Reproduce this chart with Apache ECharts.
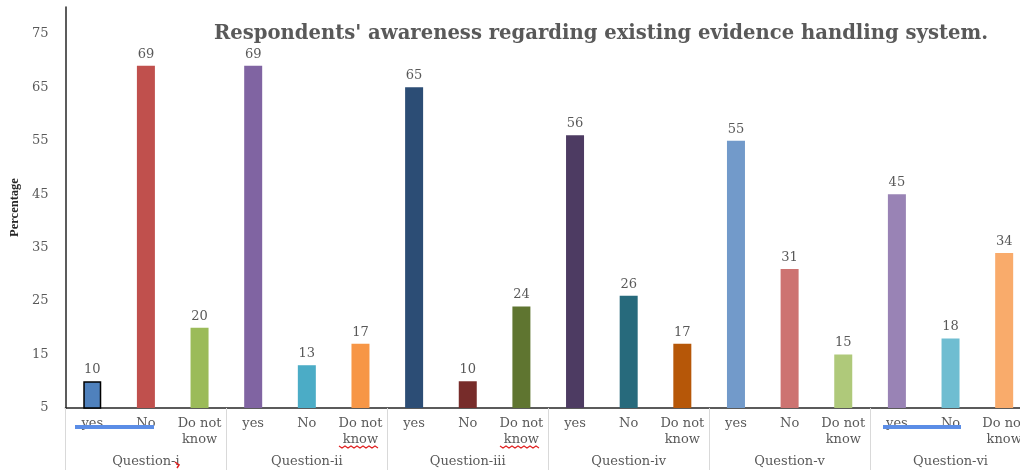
<!DOCTYPE html>
<html>
<head>
<meta charset="utf-8">
<script src="https://cdn.jsdelivr.net/npm/echarts@6/dist/echarts.min.js"></script>
<style>
  html, body { margin: 0; padding: 0; background: #fff; overflow: hidden; }
  /* the last group runs a little past the right edge of the window */
  #chart { width: 1031px; height: 470px; }
</style>
</head>
<body>
<div id="chart"></div>
<script>
// Questions and the answer options under each of them
const questions = ['Question-i', 'Question-ii', 'Question-iii', 'Question-iv', 'Question-v', 'Question-vi'];
const answers = ['yes', 'No', 'Do not\nknow'];

// Percentage of respondents per answer, question by question
const qi   = [10, 69, 20];
const qii  = [69, 13, 17];
const qiii = [65, 10, 24];
const qiv  = [56, 26, 17];
const qv   = [55, 31, 15];
const qvi  = [45, 18, 34];

// Bar colours, one triple per question
const colorsI   = ['#4F81BD', '#C0504D', '#9BBB59'];
const colorsII  = ['#8064A2', '#4BACC6', '#F79646'];
const colorsIII = ['#2C4D75', '#772C2A', '#5F7530'];
const colorsIV  = ['#4D3B62', '#276A7C', '#B65708'];
const colorsV   = ['#729ACA', '#CD7371', '#AFC97A'];
const colorsVI  = ['#9983B5', '#6FBDD1', '#F9AB6B'];

// Y axis tick labels
const yTicks = [5, 15, 25, 35, 45, 55, 65, 75];

const groups = [qi, qii, qiii, qiv, qv, qvi];
const palettes = [colorsI, colorsII, colorsIII, colorsIV, colorsV, colorsVI];

const categories = [];
const barData = [];
groups.forEach((vals, g) => {
  vals.forEach((v, i) => {
    categories.push(answers[i]);
    const item = { value: v, itemStyle: { color: palettes[g][i] } };
    if (g === 0 && i === 0) {
      item.itemStyle.borderColor = '#000';
      item.itemStyle.borderWidth = 1.5;
    }
    barData.push(item);
  });
});

const serif = '"DejaVu Serif", "Liberation Serif", serif';
const textGrey = '#595959';

// wavy underline used by the spell-check marks
function squiggle(x0, x1, y) {
  const pts = [];
  let up = true;
  for (let x = x0; x <= x1; x += 3) {
    pts.push([x, up ? y : y + 2]);
    up = !up;
  }
  return { type: 'polyline', z: 100, shape: { points: pts }, style: { stroke: '#E02020', lineWidth: 1.2, fill: null } };
}

const chart = echarts.init(document.getElementById('chart'));
chart.setOption({
  animation: false,
  backgroundColor: '#fff',
  title: {
    text: "Respondents' awareness regarding existing evidence handling system.",
    left: 209,
    top: 19,
    textStyle: { fontFamily: serif, fontWeight: 'bold', fontSize: 19.6, color: textGrey }
  },
  grid: { left: 62, right: 0, top: 7, bottom: 62, containLabel: false },
  xAxis: [
    {
      type: 'category',
      data: categories,
      position: 'bottom',
      axisLine: { show: true, lineStyle: { color: '#262626', width: 1.5 } },
      axisTick: { show: false },
      axisLabel: {
        interval: 0,
        margin: 8,
        fontFamily: serif,
        fontSize: 13,
        lineHeight: 16,
        color: textGrey
      }
    },
    {
      type: 'category',
      data: questions,
      position: 'bottom',
      axisLine: { show: false },
      axisTick: { show: true, length: 62, lineStyle: { color: '#d9d9d9', width: 1 } },
      axisLabel: {
        interval: 0,
        margin: 47,
        fontFamily: serif,
        fontSize: 13,
        color: textGrey
      }
    }
  ],
  yAxis: {
    type: 'value',
    name: 'Percentage',
    nameLocation: 'middle',
    nameGap: 38,
    nameRotate: 90,
    nameTextStyle: { fontFamily: '"Liberation Serif", serif', fontWeight: 'bold', fontSize: 12.5, color: '#262626' },
    min: 5,
    max: 80,
    interval: 5,
    axisLine: { show: true, lineStyle: { color: '#262626', width: 1.5 } },
    axisTick: { show: false },
    splitLine: { show: false },
    axisLabel: {
      margin: 17,
      fontFamily: serif,
      fontSize: 13,
      color: textGrey,
      formatter: v => (yTicks.includes(v) ? String(v) : '')
    }
  },
  series: [{
    type: 'bar',
    xAxisIndex: 0,
    data: barData,
    barWidth: 18,
    label: {
      show: true,
      position: 'top',
      distance: 5,
      fontFamily: serif,
      fontSize: 13,
      color: textGrey
    }
  }],
  // editor marks left on the category labels
  graphic: [
    { type: 'rect', z: 100, shape: { x: 75, y: 425, width: 79, height: 4 }, style: { fill: '#5B8DE6' } },
    { type: 'rect', z: 100, shape: { x: 883, y: 425, width: 78, height: 4 }, style: { fill: '#5B8DE6' } },
    squiggle(339, 378, 446),
    squiggle(500, 539, 446),
    { type: 'polyline', z: 100, shape: { points: [[175, 462], [179, 465], [177, 468]] }, style: { stroke: '#E02020', lineWidth: 1.5, fill: null } }
  ]
});
</script>
</body>
</html>
